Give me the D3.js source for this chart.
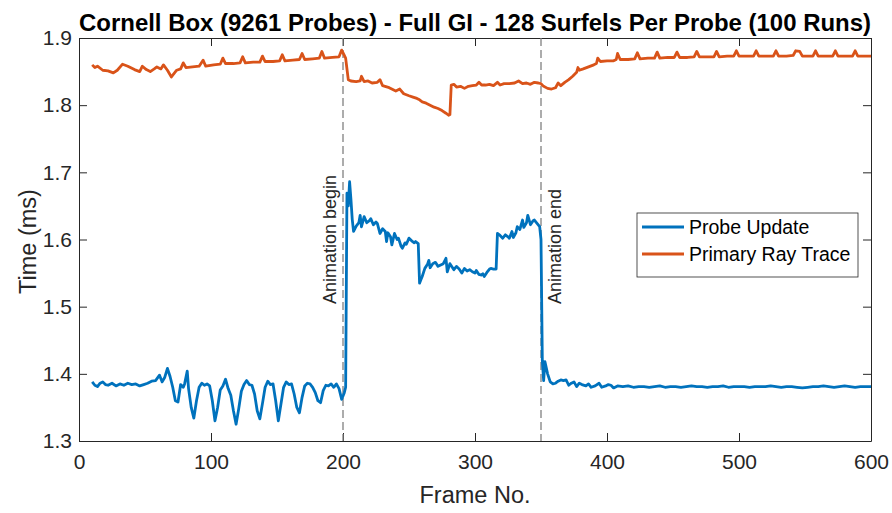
<!DOCTYPE html>
<html>
<head>
<meta charset="utf-8">
<script src="https://cdn.jsdelivr.net/npm/d3@7"></script>
<style>
  body { margin: 0; background: #fff; }
  svg { display: block; font-family: "Liberation Sans", Arial, Helvetica, sans-serif; }
</style>
</head>
<body>
<svg id="chart" width="892" height="513"></svg>
<script>
// frame numbers / timings (ms)
var probeFrames = [10,12,14,16,18,20,22,25,28,31,34,37,40,43,46,49,52,55,
  58,61,63,65,67,69,71,73,75,77,79,80,82,83,85,87,89,91,93,95,97,99,101,103,105,107,109,111,113,115,117,119,121,123,125,127,129,131,133,135,137,139,141,143,145,147,149,151,153,155,157,159,161,163,165,167,169,171,173,175,177,179,181,183,185,187,189,191,193,195,197,199,201,202,
  203,204,205,206,207,208,210,212,213,214,216,218,220,221,223,225,226,228,230,232,233,234,236,237,239,241,242,244,245,247,248,250,252,254,255,257,
  258,259,260,262,264,265,266,268,270,272,274,276,278,279,281,283,284,286,288,290,292,294,296,298,300,301,303,305,306,307,309,311,312,314,316,
  317,319,321,323,325,326,328,329,331,332,334,336,337,339,340,342,344,345,347,349,350,
  351,352,353,355,357,359,361,363,365,367,369,371,373,375,377,379,381,384,386,388,391,394,396,399,401,403,405,408,412,416,420,424,428,432,436,440,444,448,452,456,460,464,468,472,476,480,484,488,492,496,500,504,508,512,516,520,524,528,532,536,540,544,548,552,556,560,564,568,572,576,580,584,588,592,596,600];
var probeTime = [1.388,1.383,1.381,1.386,1.388,1.384,1.383,1.386,1.382,1.385,1.383,1.386,1.384,1.385,1.382,1.384,1.386,1.389,
  1.390,1.398,1.388,1.395,1.408,1.396,1.380,1.360,1.358,1.384,1.380,1.385,1.404,1.378,1.350,1.334,1.360,1.380,1.386,1.383,1.385,1.382,1.360,1.330,1.350,1.376,1.382,1.392,1.378,1.368,1.345,1.325,1.348,1.374,1.384,1.390,1.384,1.383,1.370,1.345,1.333,1.356,1.380,1.389,1.384,1.385,1.360,1.330,1.355,1.380,1.388,1.384,1.385,1.370,1.350,1.342,1.365,1.382,1.386,1.385,1.380,1.372,1.360,1.357,1.375,1.383,1.382,1.385,1.380,1.385,1.378,1.362,1.372,1.380,
  1.669,1.650,1.686,1.660,1.630,1.612,1.620,1.625,1.636,1.619,1.634,1.625,1.628,1.631,1.622,1.626,1.624,1.609,1.616,1.612,1.597,1.610,1.604,1.592,1.609,1.600,1.602,1.590,1.587,1.595,1.593,1.602,1.598,1.595,1.597,1.594,
  1.535,1.540,1.545,1.557,1.563,1.569,1.558,1.564,1.566,1.560,1.562,1.564,1.572,1.552,1.564,1.558,1.555,1.560,1.556,1.550,1.557,1.553,1.555,1.552,1.550,1.554,1.548,1.547,1.549,1.545,1.551,1.556,1.557,1.556,1.556,
  1.609,1.606,1.602,1.607,1.604,1.602,1.612,1.603,1.610,1.619,1.615,1.629,1.618,1.625,1.636,1.622,1.628,1.629,1.624,1.619,1.600,
  1.420,1.390,1.418,1.400,1.388,1.385,1.386,1.389,1.391,1.390,1.391,1.383,1.386,1.388,1.381,1.386,1.384,1.382,1.385,1.380,1.382,1.386,1.380,1.382,1.384,1.383,1.379,1.382,1.381,1.382,1.380,1.381,1.381,1.380,1.381,1.382,1.380,1.381,1.381,1.380,1.381,1.382,1.381,1.381,1.380,1.381,1.381,1.382,1.380,1.381,1.381,1.381,1.380,1.381,1.381,1.381,1.382,1.381,1.380,1.381,1.381,1.380,1.379,1.380,1.381,1.381,1.382,1.381,1.380,1.381,1.382,1.381,1.380,1.381,1.381,1.381];

var rayFrames = [10,12,14,18,22,26,29,33,37,42,46,48,51,54,57,59,62,64,67,70,74,77,79,81,86,91,94,96,102,107,109,111,117,122,124,126,132,137,139,141,147,152,154,156,162,167,169,171,177,182,184,186,192,197,199,201,202,
  204,206,210,213,214,216,219,222,226,228,230,235,240,243,246,250,253,256,258,260,263,266,269,272,275,278,280,281,
  282,284,286,289,292,295,298,301,303,305,308,311,314,317,319,322,326,330,333,336,339,342,345,348,350,
  352,355,358,361,363,365,368,371,374,377,378,379,382,386,390,392,393,395,400,405,407,408,410,416,421,423,425,431,436,438,440,446,451,453,455,461,466,468,470,476,481,483,485,491,496,498,500,506,511,513,515,521,526,528,530,536,541,543,546,548,553,556,558,560,566,571,573,575,581,586,588,590,595,600];
var rayTime = [1.860,1.856,1.858,1.852,1.851,1.848,1.852,1.861,1.858,1.853,1.850,1.858,1.853,1.850,1.854,1.857,1.854,1.860,1.852,1.842,1.852,1.854,1.863,1.856,1.857,1.858,1.867,1.858,1.860,1.861,1.870,1.862,1.862,1.863,1.872,1.863,1.864,1.864,1.873,1.865,1.865,1.866,1.875,1.866,1.867,1.868,1.877,1.868,1.869,1.870,1.880,1.870,1.871,1.872,1.882,1.874,1.870,
  1.838,1.836,1.835,1.836,1.843,1.835,1.836,1.833,1.834,1.838,1.829,1.826,1.821,1.824,1.817,1.814,1.812,1.810,1.808,1.805,1.803,1.800,1.797,1.795,1.792,1.788,1.785,1.786,
  1.830,1.831,1.827,1.828,1.825,1.828,1.829,1.830,1.834,1.830,1.830,1.831,1.829,1.834,1.830,1.832,1.832,1.833,1.836,1.832,1.833,1.831,1.834,1.833,1.832,
  1.828,1.825,1.824,1.826,1.833,1.829,1.834,1.838,1.843,1.849,1.856,1.852,1.854,1.857,1.860,1.862,1.870,1.865,1.866,1.866,1.868,1.877,1.868,1.868,1.869,1.878,1.869,1.870,1.870,1.879,1.870,1.871,1.871,1.879,1.871,1.871,1.872,1.880,1.872,1.872,1.872,1.880,1.872,1.873,1.873,1.881,1.873,1.873,1.873,1.881,1.873,1.873,1.873,1.881,1.873,1.873,1.874,1.881,1.880,1.873,1.873,1.873,1.881,1.873,1.873,1.873,1.881,1.873,1.873,1.873,1.881,1.873,1.873,1.873];

var xTicks = [0,100,200,300,400,500,600];
var yTicks = [1.3,1.4,1.5,1.6,1.7,1.8,1.9];
var markers = [200, 350];
var markerLabels = ["Animation begin", "Animation end"];
var seriesNames = ["Probe Update", "Primary Ray Trace"];
var seriesColors = ["#0072BD", "#D95319"];

var margin = {top: 38, right: 21, bottom: 72, left: 79},
    W = 892, H = 513,
    width = W - margin.left - margin.right,
    height = H - margin.top - margin.bottom;

var svg = d3.select("#chart");
var g = svg.append("g").attr("transform", "translate(" + margin.left + "," + margin.top + ")");

var x = d3.scaleLinear().domain([0, 600]).range([0, width]);
var y = d3.scaleLinear().domain([1.3, 1.9]).range([height, 0]);

var axisColor = "#262626";

// axes with inward ticks, box on all sides
var bottom = g.append("g").attr("transform", "translate(0," + height + ")")
  .call(d3.axisBottom(x).tickValues(xTicks).tickSizeInner(-8).tickSizeOuter(0).tickPadding(13));
var top_ = g.append("g")
  .call(d3.axisTop(x).tickValues(xTicks).tickSizeInner(-8).tickSizeOuter(0).tickFormat(""));
var left = g.append("g")
  .call(d3.axisLeft(y).tickValues(yTicks).tickSizeInner(-8).tickSizeOuter(0).tickPadding(7).tickFormat(d3.format(".1f")));
var right = g.append("g").attr("transform", "translate(" + width + ",0)")
  .call(d3.axisRight(y).tickValues(yTicks).tickSizeInner(-8).tickSizeOuter(0).tickFormat(""));

[bottom, top_, left, right].forEach(function(a) {
  a.selectAll("path, line").attr("stroke", axisColor).attr("stroke-width", 1);
  a.selectAll("text").attr("fill", axisColor).style("font-size", "21px").style("font-family", "Liberation Sans, Arial, sans-serif");
});

// animation markers
markers.forEach(function(m, i) {
  g.append("line")
    .attr("x1", x(m)).attr("x2", x(m))
    .attr("y1", 0).attr("y2", height)
    .attr("stroke", "#808080").attr("stroke-width", 1.3)
    .attr("stroke-dasharray", "8,4");
  var tx = i == 0 ? x(m) - 7 : x(m) + 20;
  g.append("text")
    .attr("transform", "translate(" + tx + "," + y(1.504) + ") rotate(-90)")
    .attr("fill", axisColor)
    .style("font-size", "18px")
    .text(markerLabels[i]);
});

var line = d3.line()
  .x(function(d) { return x(d[0]); })
  .y(function(d) { return y(d[1]); });

var probeData = probeFrames.map(function(f, i) { return [f, probeTime[i]]; });
var rayData = rayFrames.map(function(f, i) { return [f, rayTime[i]]; });

[probeData, rayData].forEach(function(d, i) {
  g.append("path")
    .datum(d)
    .attr("fill", "none")
    .attr("stroke", seriesColors[i])
    .attr("stroke-width", 2.8)
    .attr("stroke-linejoin", "round")
    .attr("d", line);
});

// title and labels
svg.append("text")
  .attr("x", margin.left + width / 2).attr("y", 31)
  .attr("text-anchor", "middle")
  .attr("textLength", 792).attr("lengthAdjust", "spacingAndGlyphs")
  .style("font-weight", "bold").style("font-size", "24px")
  .attr("fill", "#000")
  .text("Cornell Box (9261 Probes) - Full GI - 128 Surfels Per Probe (100 Runs)");

svg.append("text")
  .attr("x", margin.left + width / 2).attr("y", 503)
  .attr("text-anchor", "middle")
  .style("font-size", "23.5px").attr("fill", axisColor)
  .text("Frame No.");

svg.append("text")
  .attr("transform", "translate(36," + (margin.top + height / 2 + 2) + ") rotate(-90)")
  .attr("text-anchor", "middle")
  .style("font-size", "23.5px").attr("fill", axisColor)
  .text("Time (ms)");

// legend
var lg = svg.append("g").attr("transform", "translate(637,213)");
lg.append("rect").attr("width", 221).attr("height", 64)
  .attr("fill", "#fff").attr("stroke", axisColor).attr("stroke-width", 0.8);
seriesNames.forEach(function(n, i) {
  var yy = 14 + i * 27;
  lg.append("line").attr("x1", 5).attr("x2", 47).attr("y1", yy).attr("y2", yy)
    .attr("stroke", seriesColors[i]).attr("stroke-width", 2.8);
  lg.append("text").attr("x", 52).attr("y", yy).attr("dy", "0.35em")
    .style("font-size", "19.5px").attr("fill", "#000").text(n);
});
</script>
</body>
</html>
